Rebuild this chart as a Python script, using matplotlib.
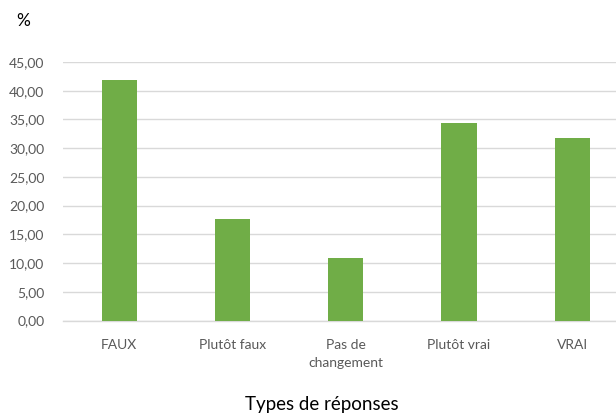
import matplotlib
matplotlib.use("Agg")
import matplotlib.pyplot as plt

categories = ["FAUX", "Plutôt faux", "Pas de\nchangement", "Plutôt vrai", "VRAI"]
values = [41.85, 17.65, 10.9, 34.4, 31.8]
yticks = [0, 5, 10, 15, 20, 25, 30, 35, 40, 45]

plt.rcParams['font.family'] = ['Lato', 'DejaVu Sans']

fig = plt.figure(figsize=(6.16, 4.2), dpi=100)
# axes extends slightly past the right edge (reference is cropped)
ax = fig.add_axes([0.1015, 0.2369, 0.9195, 0.6155])

x = list(range(len(categories)))
ax.bar(x, values, width=0.31, color="#70AD47", zorder=3)
ax.set_xlim(-0.5, len(categories) - 0.5)
ax.set_ylim(0, 45)
ax.set_yticks(yticks)
ax.set_yticklabels([f"{v:.2f}".replace(".", ",") for v in yticks], color="#595959", fontsize=10)
ax.set_xticks(x)
ax.set_xticklabels(categories, color="#595959", fontsize=10, linespacing=1.65)
ax.tick_params(axis="both", length=0)
ax.tick_params(axis="x", pad=13)
ax.tick_params(axis="y", pad=13)
ax.grid(axis="y", color="#D9D9D9", linewidth=1, zorder=0)
for s in ["top", "right", "left"]:
    ax.spines[s].set_visible(False)
ax.spines["bottom"].set_color("#D9D9D9")
ax.spines["bottom"].set_linewidth(1)

fig.text(0.026, 0.95, "%", fontsize=12.5, color="black", ha="left", va="center")
fig.text(0.523, 0.038, "Types de réponses", fontsize=13.5, color="black", ha="center", va="center")

fig.savefig("out.png", dpi=100)
